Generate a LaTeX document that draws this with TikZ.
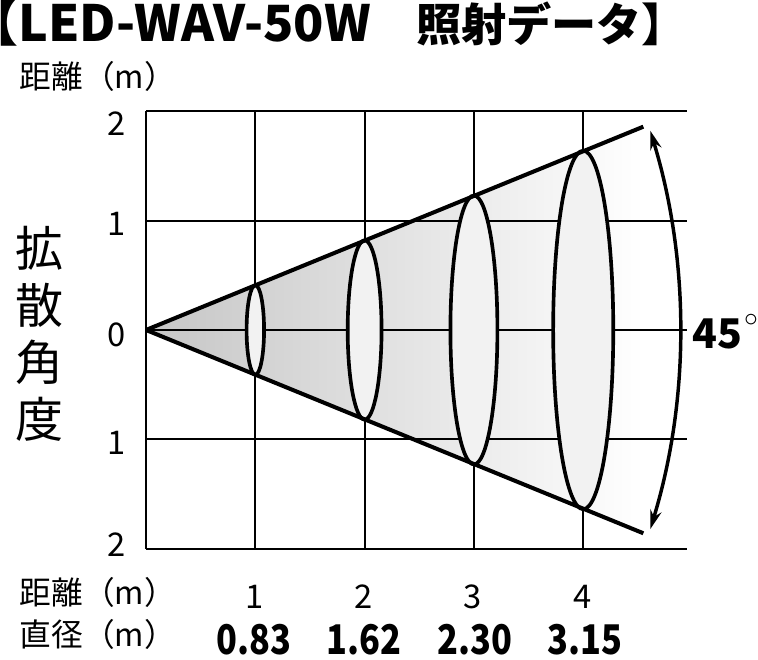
\documentclass[tikz,border=0pt]{standalone}
\usepackage{fontspec}
\setmainfont{Noto Sans CJK JP}
\usetikzlibrary{arrows.meta}

\begin{document}
\begin{tikzpicture}[x=2cm,y=2cm,
  gridline/.style={draw=black,line width=1.05pt},
  beamline/.style={draw=black,line width=2.1pt},
  spot/.style={draw=black,line width=1.9pt,fill=gray!10},
  ticklbl/.style={inner sep=0pt,font=\fontsize{17}{17}\selectfont},
  cjklbl/.style={inner sep=0pt,anchor=base west,font=\fontsize{16.5}{16.5}\selectfont},
  vallbl/.style={inner sep=0pt,font=\fontsize{21.3}{21.3}\selectfont\bfseries}]

\useasboundingbox (-1.336,-3.019) rectangle (5.599,3.019);

\node[inner sep=0pt,anchor=base west,font=\bfseries] (title) at (-1.336,2.635)
  {\hspace{-16.5pt}{\fontsize{26}{26}\selectfont 【LED-WAV-50W}{\fontsize{23.5}{23.5}\selectfont 　照射データ】}};
\node[cjklbl] (disttop) at (-1.16,2.205) {距離（m）};

%beam
\shade[left color=gray!45,right color=white] (0,0) -- (4.55,1.86) -- (4.55,-1.86) -- cycle;

%grid
\path[gridline] (0,2) -- (4.95,2);
\path[gridline] (0,1) -- (4.95,1);
\path[gridline] (0,0) -- (4.95,0);
\path[gridline] (0,-1) -- (4.95,-1);
\path[gridline] (0,-2) -- (4.95,-2);
\path[gridline] (0,-2) -- (0,2);
\path[gridline] (1,-2) -- (1,2);
\path[gridline] (2,-2) -- (2,2);
\path[gridline] (3,-2) -- (3,2);
\path[gridline] (4,-2) -- (4,2);

%y axis
\node[ticklbl] (y2) at (-0.265,1.885) {2};
\node[ticklbl] (y1) at (-0.265,0.975) {1};
\node[ticklbl] (y0) at (-0.265,-0.046) {0};
\node[ticklbl] (ym1) at (-0.265,-1.034) {1};
\node[ticklbl] (ym2) at (-0.265,-1.967) {2};
\node[inner sep=0pt,align=center,font=\fontsize{25}{29.7}\selectfont] (spread) at (-0.97,-0.032) {拡\\散\\角\\度};

%spots
\path[spot] (1,0) ellipse [x radius=0.08, y radius=0.41];
\path[spot] (2,0) ellipse [x radius=0.155, y radius=0.82];
\path[spot] (3,0) ellipse [x radius=0.215, y radius=1.23];
\path[spot] (4,0) ellipse [x radius=0.275, y radius=1.64];

%beam edges
\coordinate (apex) at (0,0);
\coordinate (upper) at (4.55,1.86);
\coordinate (lower) at (4.55,-1.86);
\path[beamline] (apex) -- (upper);
\path[beamline] (apex) -- (lower);

%angle
\coordinate (arctop) at (4.613,1.824);
\path[draw=black,line width=1.8pt,{Stealth[length=10pt,width=6pt]}-{Stealth[length=10pt,width=6pt]}] (arctop) arc[start angle=17,end angle=-17,radius=6.237];
\node[vallbl,anchor=base west] (angle) at (4.995,-0.165) {45\hspace{1pt}\raisebox{11pt}{\normalfont\fontsize{14}{14}\selectfont$\circ$}};

%table
\node[cjklbl] (distbot) at (-1.16,-2.516) {距離（m）};
\node[ticklbl] (d1) at (0.99,-2.443) {1};
\node[ticklbl] (d2) at (1.99,-2.443) {2};
\node[ticklbl] (d3) at (2.99,-2.443) {3};
\node[ticklbl] (d4) at (3.99,-2.443) {4};
\node[cjklbl] (diam) at (-1.16,-2.900) {直径（m）};
\node[vallbl] (v1) at (0.99,-2.836) {\scalebox{0.84}[1]{0.83}};
\node[vallbl] (v2) at (1.99,-2.836) {\scalebox{0.84}[1]{1.62}};
\node[vallbl] (v3) at (3.01,-2.836) {\scalebox{0.84}[1]{2.30}};
\node[vallbl] (v4) at (4.02,-2.836) {\scalebox{0.84}[1]{3.15}};

\end{tikzpicture}
\end{document}
